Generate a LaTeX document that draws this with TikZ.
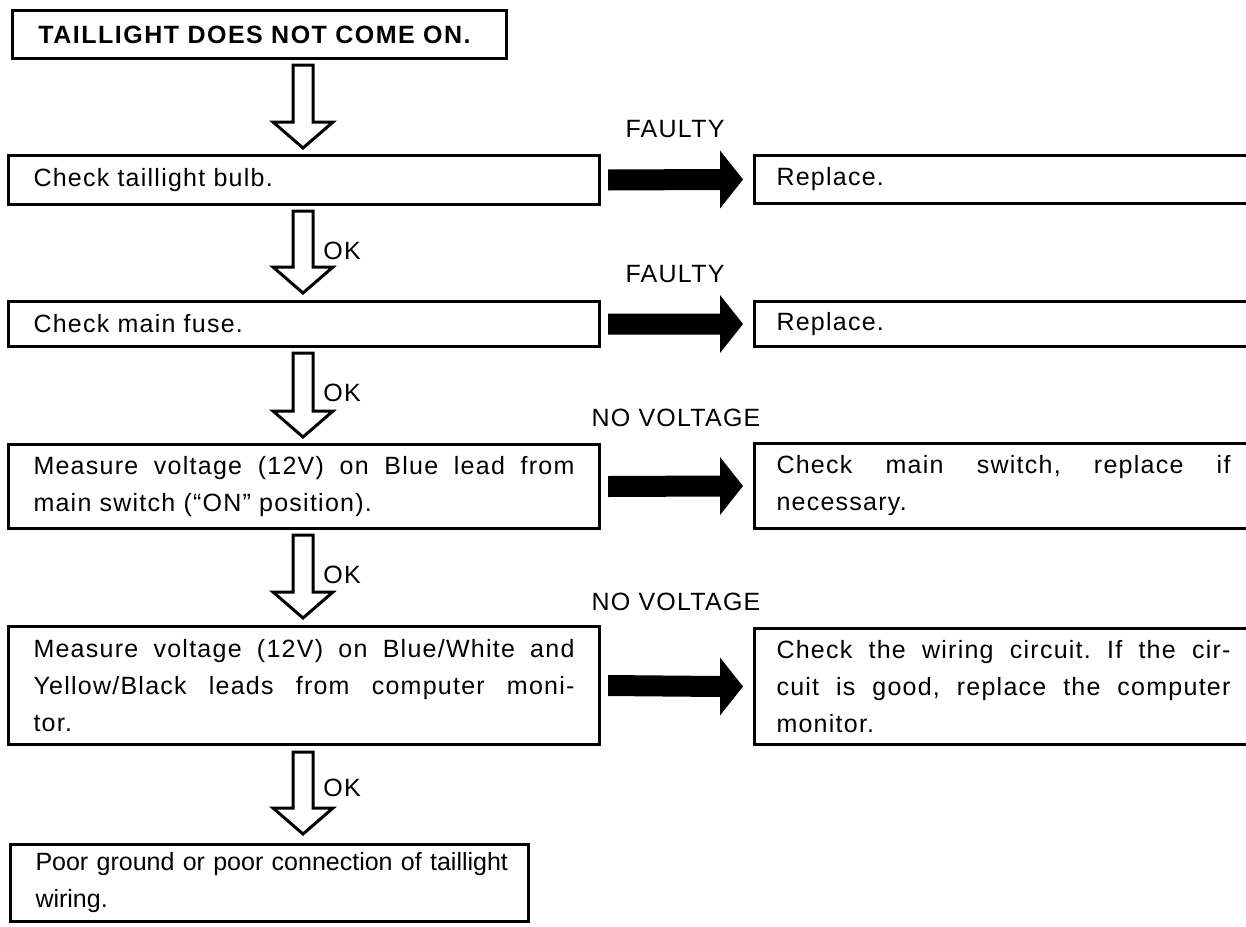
\documentclass[tikz,border=0pt]{standalone}
\usepackage{fontspec}
\setmainfont{Liberation Sans}[LetterSpace=5]
\usetikzlibrary{calc}
\frenchspacing
\newcommand\hollowdown[2]{%
  \draw[harrow] ($(#1)+(-10,0)$) -- ($(#2)+(-10,-26)$) -- ($(#2)+(-30,-26)$) -- (#2)
    -- ($(#2)+(30,-26)$) -- ($(#2)+(10,-26)$) -- ($(#1)+(10,0)$) -- cycle;}
\newcommand\solidright[2]{%
  \fill[sarrow] ($(#1)+(0,-10.5)$) -- ($(#2)+(-23,-10.5)$) -- ($(#2)+(-23,-29)$) -- (#2)
    -- ($(#2)+(-23,29)$) -- ($(#2)+(-23,10.5)$) -- ($(#1)+(0,10.5)$) -- cycle;}
\begin{document}
\begin{tikzpicture}[x=0.5pt,y=-0.5pt,
  font=\fontsize{12.5pt}{18.5pt}\selectfont\frenchspacing,
  box/.style={draw, line width=1.5pt, rectangle, anchor=north west, inner ysep=0pt},
  mainbox/.style={box, minimum width=295.5pt, inner xsep=12.5pt, text width=270.5pt, align=justify},
  rbox/.style={box, minimum width=249pt, inner xsep=11pt, text width=227pt, align=justify},
  harrow/.style={draw, line width=1.5pt, fill=white, line join=miter},
  sarrow/.style={fill=black},
  lbl/.style={inner sep=0pt},
  ok/.style={lbl, anchor=west}]
\useasboundingbox (0,0) rectangle (1246,926);
% main column
\node[box, minimum width=247pt, minimum height=24pt, inner xsep=13pt, text width=221pt, align=left,
  font=\fontsize{12.5pt}{18.5pt}\selectfont\bfseries\addfontfeature{LetterSpace=6}] (b0) at (11,9) {\mbox{TAILLIGHT DOES NOT COME ON.}};
\node[mainbox, minimum height=24.5pt] (b1) at (7,154) {Check taillight bulb.};
\node[mainbox, minimum height=22.5pt] (b2) at (7,300) {Check main fuse.};
\node[mainbox, minimum height=42pt] (b3) at (7,443) {Measure voltage (12V) on Blue lead from\linebreak main switch (``ON'' position).};
\node[mainbox, minimum height=59pt] (b4) at (7,625) {Measure voltage (12V) on Blue/White and\linebreak Yellow/Black leads from computer moni-\linebreak tor.};
\node[box, minimum width=259pt, minimum height=38.5pt, inner xsep=12.5pt, text width=234pt, align=left,
  font=\fontsize{12.5pt}{18.5pt}\selectfont\frenchspacing\addfontfeature{LetterSpace=0}] (b5) at (9,843) {\mbox{Poor ground or poor connection of taillight}\\wiring.};
% right column
\node[rbox, minimum height=24pt] (r1) at (753,154) {Replace.};
\node[rbox, minimum height=22.5pt] (r2) at (753,300) {Replace.};
\node[rbox, minimum height=42.5pt] (r3) at (753,442) {Check main switch, replace if\linebreak necessary.};
\node[rbox, minimum height=58pt] (r4) at (753,627) {Check the wiring circuit. If the cir-\linebreak cuit is good, replace the computer\linebreak monitor.};
% labels
\node[lbl] (f1) at (675,129) {FAULTY};
\node[lbl] (f2) at (675,274) {FAULTY};
\node[lbl] (n1) at (676,418) {NO VOLTAGE};
\node[lbl] (n2) at (676,602) {NO VOLTAGE};
\node[ok] (k1) at (323,251) {OK};
\node[ok] (k2) at (323,393) {OK};
\node[ok] (k3) at (323,575) {OK};
\node[ok] (k4) at (323,788) {OK};
% hollow down arrows
\coordinate (ax) at (303,0);
\coordinate (s0) at ($(b0.south -| ax)+(0,5)$); \coordinate (t0) at ($(b1.north -| ax)+(0,-6)$);
\coordinate (s1) at ($(b1.south -| ax)+(0,5)$); \coordinate (t1) at ($(b2.north -| ax)+(0,-7)$);
\coordinate (s2) at ($(b2.south -| ax)+(0,5)$); \coordinate (t2) at ($(b3.north -| ax)+(0,-6)$);
\coordinate (s3) at ($(b3.south -| ax)+(0,5)$); \coordinate (t3) at ($(b4.north -| ax)+(0,-7)$);
\coordinate (s4) at ($(b4.south -| ax)+(0,6)$); \coordinate (t4) at ($(b5.north -| ax)+(0,-9)$);
\hollowdown{s0}{t0}
\hollowdown{s1}{t1}
\hollowdown{s2}{t2}
\hollowdown{s3}{t3}
\hollowdown{s4}{t4}
% solid right arrows
\coordinate (p1) at ($(b1.east)+(7,0)$); \coordinate (q1) at ($(r1.west)+(-10,0)$);
\coordinate (p2) at ($(b2.east)+(7,0)$); \coordinate (q2) at ($(r2.west)+(-10,0)$);
\coordinate (p3) at ($(b3.east)+(7,0)$); \coordinate (q3) at ($(r3.west)+(-10,0)$);
\coordinate (p4) at ($(b4.east)+(7,0)$); \coordinate (q4) at ($(r4.west)+(-10,0)$);
\solidright{p1}{q1}
\solidright{p2}{q2}
\solidright{p3}{q3}
\solidright{p4}{q4}
\end{tikzpicture}
\end{document}
